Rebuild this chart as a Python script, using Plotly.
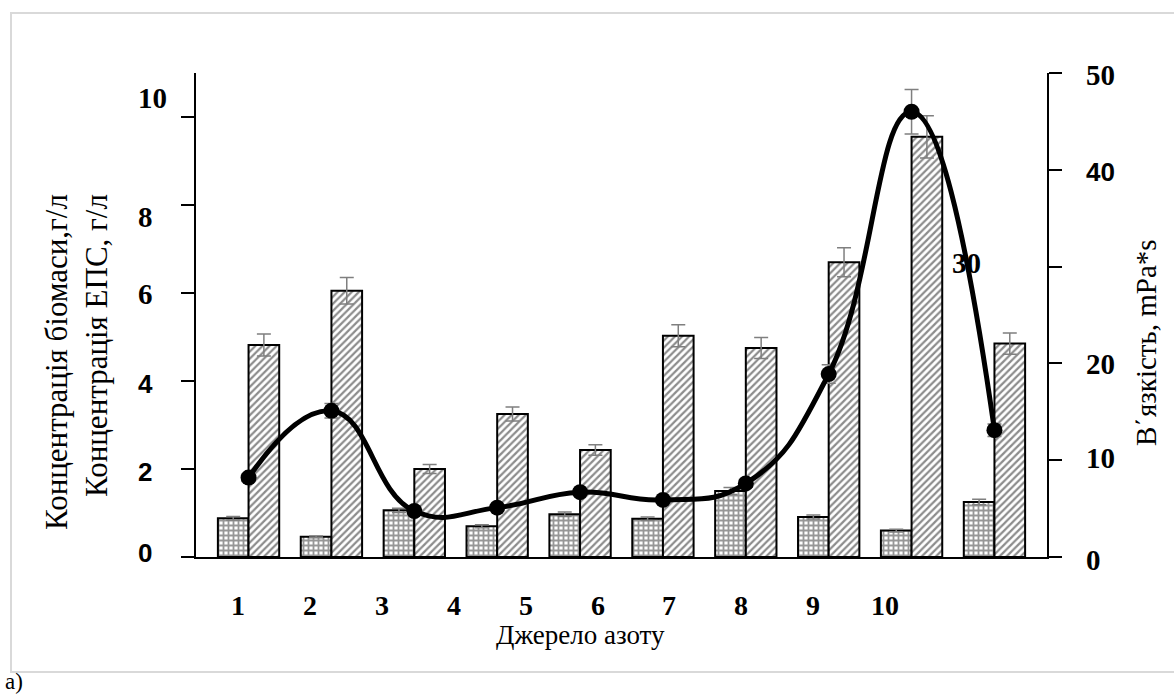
import plotly.graph_objects as go

# ---------------- data ----------------
sources = ["1", "2", "3", "4", "5", "6", "7", "8", "9", "10"]
biomass = [0.88, 0.46, 1.06, 0.70, 0.97, 0.87, 1.50, 0.91, 0.60, 1.25]
biomass_err = [0.04, 0.02, 0.05, 0.035, 0.05, 0.04, 0.08, 0.045, 0.03, 0.06]
eps = [4.82, 6.05, 2.00, 3.25, 2.43, 5.03, 4.75, 6.70, 9.55, 4.85]
eps_err = [0.25, 0.30, 0.10, 0.16, 0.12, 0.25, 0.24, 0.33, 0.48, 0.24]
viscosity = [8.2, 15.1, 4.75, 5.1, 6.7, 5.9, 7.6, 18.9, 46.0, 13.1]
viscosity_err = [0.4, 0.75, 0.25, 0.25, 0.35, 0.3, 0.4, 0.95, 2.3, 0.65]

x_tick_labels = ["1", "2", "3", "4", "5", "6", "7", "8", "9", "10"]
left_tick_vals = [0, 2, 4, 6, 8, 10]
left_tick_labels = ["10", "8", "6", "4", "2", "0"]
right_tick_vals = [0, 10, 20, 30, 40, 50]
right_tick_labels = ["50", "40", "20", "10", "0"]

# ---------------- layout geometry (pixels) ----------------
W, H = 1174, 695
L, R, T, B = 196, 1047, 73, 557


def fx(px):
    return (px - L) / (R - L)


def fy(py):
    return (B - py) / (B - T)


SERIF = "Liberation Serif"
SANS = "Liberation Sans"

fig = go.Figure()

fig.add_trace(go.Bar(
    x=sources, y=biomass, name="Біомаса",
    error_y=dict(type="data", array=biomass_err, color="#7f7f7f", thickness=1.5, width=7),
    marker=dict(color="white", line=dict(color="black", width=2),
                pattern=dict(shape="+", fgcolor="#303030", bgcolor="white", size=5, solidity=0.6)),
))
fig.add_trace(go.Bar(
    x=sources, y=eps, name="ЕПС",
    error_y=dict(type="data", array=eps_err, color="#7f7f7f", thickness=1.5, width=7),
    marker=dict(color="white", line=dict(color="black", width=2),
                pattern=dict(shape="/", fgcolor="#1a1a1a", bgcolor="white", size=5, solidity=0.45)),
))
fig.add_trace(go.Scatter(
    x=sources, y=viscosity, yaxis="y2", name="В΄язкість",
    mode="lines+markers",
    line=dict(color="black", width=5, shape="spline", smoothing=1.3),
    marker=dict(color="black", size=16),
    error_y=dict(type="data", array=viscosity_err, color="#7f7f7f", thickness=1.5, width=7),
))

fig.update_layout(
    width=W, height=H,
    margin=dict(l=L, r=W - R, t=T, b=H - B, autoexpand=False),
    paper_bgcolor="white", plot_bgcolor="white",
    showlegend=False,
    barmode="group", bargap=0.26, bargroupgap=0.0,
    xaxis=dict(type="category", showticklabels=False, ticks="", showgrid=False,
               showline=True, linecolor="black", linewidth=2, zeroline=False),
    xaxis2=dict(overlaying="x", range=[0.417, 12.25], visible=False),
    yaxis=dict(range=[0, 11], tickvals=left_tick_vals, showticklabels=False,
               ticks="outside", ticklen=13, tickwidth=2, tickcolor="black",
               showline=True, linecolor="black", linewidth=2, showgrid=False, zeroline=False),
    yaxis2=dict(range=[0, 50], tickvals=right_tick_vals, showticklabels=False,
                overlaying="y", side="right",
                ticks="outside", ticklen=13, tickwidth=2, tickcolor="black",
                showline=True, linecolor="black", linewidth=2, showgrid=False, zeroline=False),
)

annotations = []
# x tick labels (slightly offset from bar groups as in the original)
for i, lab in enumerate(x_tick_labels):
    annotations.append(dict(x=i + 1, xref="x2", y=fy(605), yref="paper", text=lab,
                            showarrow=False, xanchor="center", yanchor="middle",
                            font=dict(family=SERIF, size=28, color="black", weight="bold")))

# left tick labels
left_pos = [98, 217, 294, 384, 472, 553]
left_fonts = [SERIF, SERIF, SERIF, SANS, SANS, SANS]
for lab, py, fam in zip(left_tick_labels, left_pos, left_fonts):
    annotations.append(dict(x=fx(136), xref="paper", y=fy(py), yref="paper", text=lab,
                            showarrow=False, xanchor="left", yanchor="middle",
                            font=dict(family=fam, size=29 if fam == SERIF else 26,
                                      color="black", weight="bold")))

# right tick labels
right_pos = [75, 172, 364, 458, 560]
right_fonts = [SERIF, SANS, SERIF, SERIF, SERIF]
for lab, py, fam in zip(right_tick_labels, right_pos, right_fonts):
    annotations.append(dict(x=fx(1084), xref="paper", y=fy(py), yref="paper", text=lab,
                            showarrow=False, xanchor="left", yanchor="middle",
                            font=dict(family=fam, size=29 if fam == SERIF else 26,
                                      color="black", weight="bold")))
# misplaced "30"
annotations.append(dict(x=fx(950), xref="paper", y=fy(263), yref="paper", text="30",
                        showarrow=False, xanchor="left", yanchor="middle",
                        font=dict(family=SERIF, size=29, color="black", weight="bold")))

# axis titles
annotations.append(dict(x=fx(76), xref="paper", y=fy(192), yref="paper",
                        text="Концентрація біомаси,г/л<br>Концентрація ЕПС, г/л",
                        textangle=-90, align="right", showarrow=False,
                        xanchor="center", yanchor="top",
                        font=dict(family=SERIF, size=31, color="black")))
annotations.append(dict(x=fx(1146), xref="paper", y=fy(343), yref="paper",
                        text="В΄язкість, mPa*s", textangle=-90, showarrow=False,
                        xanchor="center", yanchor="middle",
                        font=dict(family=SERIF, size=29, color="black")))
annotations.append(dict(x=fx(580), xref="paper", y=fy(635), yref="paper",
                        text="Джерело азоту", showarrow=False,
                        xanchor="center", yanchor="middle",
                        font=dict(family=SERIF, size=27, color="black")))
annotations.append(dict(x=fx(3), xref="paper", y=fy(681), yref="paper",
                        text="а)", showarrow=False,
                        xanchor="left", yanchor="middle",
                        font=dict(family=SERIF, size=23, color="black")))

fig.update_layout(annotations=annotations)

# outer light-grey frame
fig.add_shape(type="rect", xref="paper", yref="paper",
              x0=fx(11), x1=fx(1180), y0=fy(672), y1=fy(13),
              line=dict(color="#d9d9d9", width=2), fillcolor="rgba(0,0,0,0)", layer="below")

fig.write_html("out.html")
